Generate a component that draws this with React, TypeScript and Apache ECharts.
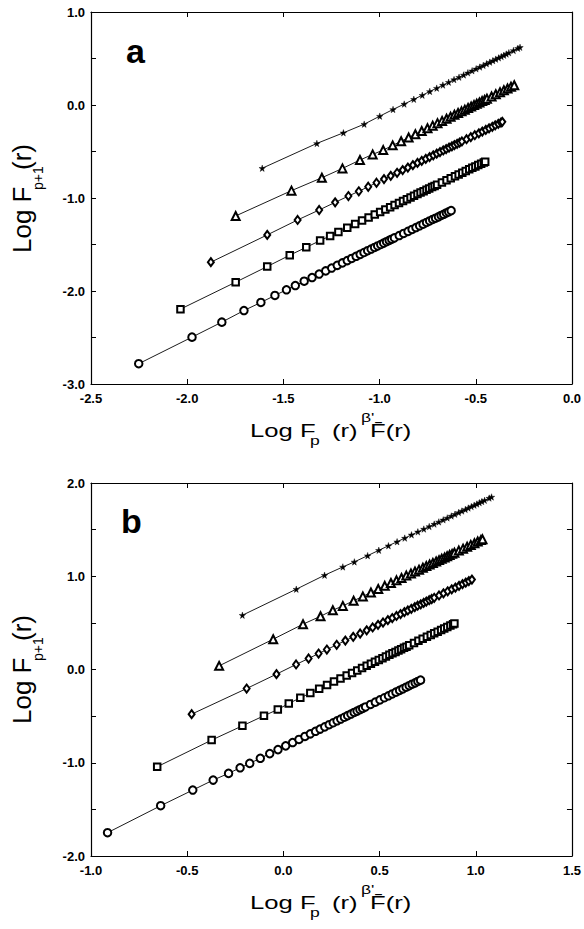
import React, { useEffect, useRef } from "react";
import * as echarts from "echarts";

// ---------- Panel a data ----------
const aStarX = [-1.61, -1.326, -1.188, -1.08, -0.999, -0.93, -0.872, -0.822, -0.778, -0.739, -0.703, -0.671, -0.641, -0.613, -0.587, -0.563, -0.541, -0.519, -0.498, -0.479, -0.461, -0.444, -0.427, -0.411, -0.396, -0.381, -0.367, -0.354, -0.341, -0.328, -0.304, -0.281, -0.27];
const aStarY = [-0.68, -0.413, -0.299, -0.206, -0.12, -0.048, 0.01, 0.061, 0.105, 0.146, 0.181, 0.214, 0.245, 0.273, 0.299, 0.323, 0.346, 0.368, 0.389, 0.408, 0.426, 0.444, 0.461, 0.477, 0.493, 0.507, 0.521, 0.535, 0.548, 0.562, 0.586, 0.609, 0.62];

const aTriX = [-1.748, -1.458, -1.3, -1.193, -1.102, -1.036, -0.981, -0.932, -0.888, -0.849, -0.814, -0.781, -0.751, -0.724, -0.699, -0.675, -0.652, -0.631, -0.611, -0.592, -0.574, -0.557, -0.54, -0.524, -0.509, -0.495, -0.481, -0.467, -0.454, -0.442, -0.418, -0.396, -0.374, -0.354, -0.335, -0.317, -0.3];
const aTriY = [-1.193, -0.921, -0.782, -0.682, -0.592, -0.531, -0.485, -0.434, -0.39, -0.349, -0.314, -0.28, -0.25, -0.222, -0.195, -0.171, -0.148, -0.126, -0.105, -0.086, -0.068, -0.05, -0.033, -0.017, -0.001, 0.014, 0.028, 0.042, 0.055, 0.068, 0.092, 0.115, 0.137, 0.158, 0.177, 0.196, 0.213];

const aDiaX = [-1.877, -1.584, -1.426, -1.314, -1.231, -1.162, -1.108, -1.059, -1.016, -0.977, -0.942, -0.909, -0.88, -0.853, -0.827, -0.803, -0.781, -0.76, -0.74, -0.721, -0.703, -0.686, -0.669, -0.654, -0.639, -0.624, -0.611, -0.597, -0.584, -0.572, -0.548, -0.526, -0.505, -0.484, -0.466, -0.448, -0.431, -0.414, -0.399, -0.383, -0.369, -0.362];
const aDiaY = [-1.69, -1.397, -1.236, -1.129, -1.047, -0.979, -0.928, -0.879, -0.836, -0.797, -0.762, -0.729, -0.7, -0.673, -0.647, -0.623, -0.601, -0.58, -0.56, -0.541, -0.523, -0.506, -0.489, -0.474, -0.459, -0.444, -0.431, -0.417, -0.404, -0.392, -0.368, -0.346, -0.325, -0.304, -0.286, -0.268, -0.251, -0.234, -0.219, -0.203, -0.189, -0.181];

const aSqX = [-2.035, -1.748, -1.584, -1.467, -1.381, -1.309, -1.257, -1.214, -1.168, -1.127, -1.091, -1.057, -1.025, -0.997, -0.97, -0.945, -0.922, -0.899, -0.878, -0.858, -0.839, -0.821, -0.803, -0.787, -0.771, -0.756, -0.742, -0.727, -0.714, -0.701, -0.676, -0.652, -0.63, -0.608, -0.589, -0.57, -0.552, -0.534, -0.518, -0.502, -0.487, -0.472, -0.458, -0.451];
const aSqY = [-2.195, -1.905, -1.737, -1.615, -1.53, -1.458, -1.408, -1.365, -1.319, -1.279, -1.243, -1.21, -1.178, -1.15, -1.124, -1.099, -1.076, -1.053, -1.033, -1.013, -0.994, -0.976, -0.958, -0.942, -0.927, -0.912, -0.898, -0.883, -0.87, -0.857, -0.833, -0.809, -0.787, -0.765, -0.747, -0.728, -0.71, -0.692, -0.676, -0.66, -0.646, -0.631, -0.617, -0.61];

const aCirX = [-2.252, -1.975, -1.82, -1.705, -1.617, -1.544, -1.484, -1.438, -1.392, -1.351, -1.314, -1.28, -1.249, -1.22, -1.193, -1.168, -1.145, -1.122, -1.101, -1.081, -1.062, -1.044, -1.026, -1.01, -0.994, -0.979, -0.964, -0.95, -0.937, -0.923, -0.898, -0.875, -0.852, -0.831, -0.811, -0.792, -0.774, -0.756, -0.74, -0.724, -0.709, -0.694, -0.68, -0.667, -0.653, -0.641, -0.628];
const aCirY = [-2.782, -2.496, -2.335, -2.21, -2.123, -2.048, -1.987, -1.941, -1.895, -1.855, -1.818, -1.784, -1.753, -1.724, -1.698, -1.673, -1.65, -1.627, -1.606, -1.586, -1.567, -1.549, -1.532, -1.516, -1.5, -1.485, -1.47, -1.456, -1.443, -1.429, -1.404, -1.381, -1.359, -1.338, -1.318, -1.299, -1.281, -1.263, -1.247, -1.231, -1.217, -1.202, -1.188, -1.175, -1.161, -1.149, -1.136];

// ---------- Panel b data ----------
const bStarX = [-0.213, 0.067, 0.214, 0.309, 0.369, 0.438, 0.496, 0.546, 0.591, 0.631, 0.666, 0.699, 0.73, 0.758, 0.784, 0.808, 0.831, 0.852, 0.873, 0.892, 0.911, 0.928, 0.946, 0.961, 0.977, 0.992, 1.006, 1.019, 1.032, 1.046, 1.07, 1.082];
const bStarY = [0.582, 0.861, 1.011, 1.1, 1.154, 1.221, 1.278, 1.327, 1.37, 1.409, 1.444, 1.476, 1.506, 1.533, 1.559, 1.583, 1.605, 1.626, 1.646, 1.665, 1.683, 1.7, 1.717, 1.732, 1.747, 1.762, 1.775, 1.789, 1.801, 1.814, 1.838, 1.85];

const bTriX = [-0.334, -0.053, 0.102, 0.193, 0.257, 0.309, 0.365, 0.413, 0.455, 0.493, 0.527, 0.559, 0.588, 0.614, 0.639, 0.663, 0.684, 0.705, 0.725, 0.743, 0.76, 0.777, 0.794, 0.809, 0.823, 0.838, 0.851, 0.864, 0.877, 0.889, 0.912, 0.934, 0.955, 0.974, 0.993, 1.01, 1.027, 1.035];
const bTriY = [0.039, 0.325, 0.486, 0.571, 0.636, 0.682, 0.737, 0.784, 0.826, 0.863, 0.897, 0.928, 0.956, 0.982, 1.007, 1.03, 1.051, 1.071, 1.091, 1.109, 1.126, 1.142, 1.159, 1.173, 1.188, 1.202, 1.215, 1.228, 1.24, 1.252, 1.275, 1.296, 1.317, 1.336, 1.354, 1.372, 1.388, 1.396];

const bDiaX = [-0.477, -0.191, -0.036, 0.066, 0.131, 0.183, 0.226, 0.277, 0.322, 0.363, 0.399, 0.433, 0.464, 0.492, 0.518, 0.543, 0.566, 0.588, 0.609, 0.629, 0.647, 0.665, 0.683, 0.698, 0.714, 0.729, 0.743, 0.758, 0.771, 0.784, 0.809, 0.832, 0.854, 0.875, 0.894, 0.913, 0.931, 0.948, 0.964, 0.98];
const bDiaY = [-0.479, -0.204, -0.05, 0.054, 0.118, 0.171, 0.214, 0.265, 0.31, 0.35, 0.386, 0.42, 0.451, 0.479, 0.504, 0.529, 0.552, 0.574, 0.595, 0.615, 0.633, 0.651, 0.669, 0.684, 0.699, 0.714, 0.728, 0.743, 0.756, 0.769, 0.794, 0.817, 0.839, 0.86, 0.878, 0.897, 0.915, 0.932, 0.948, 0.964];

const bSqX = [-0.656, -0.373, -0.213, -0.101, -0.029, 0.028, 0.088, 0.14, 0.186, 0.227, 0.263, 0.297, 0.329, 0.357, 0.384, 0.409, 0.433, 0.455, 0.476, 0.496, 0.515, 0.533, 0.551, 0.567, 0.583, 0.598, 0.612, 0.627, 0.64, 0.654, 0.679, 0.702, 0.724, 0.746, 0.766, 0.784, 0.802, 0.82, 0.836, 0.852, 0.868, 0.882, 0.889];
const bSqY = [-1.043, -0.757, -0.604, -0.496, -0.429, -0.364, -0.304, -0.253, -0.207, -0.166, -0.13, -0.096, -0.064, -0.037, -0.01, 0.015, 0.039, 0.061, 0.082, 0.102, 0.121, 0.139, 0.157, 0.173, 0.188, 0.203, 0.217, 0.232, 0.245, 0.259, 0.284, 0.307, 0.329, 0.351, 0.371, 0.389, 0.406, 0.424, 0.44, 0.456, 0.472, 0.486, 0.493];

const bCirX = [-0.914, -0.638, -0.471, -0.365, -0.285, -0.225, -0.175, -0.12, -0.071, -0.028, 0.012, 0.048, 0.081, 0.112, 0.14, 0.167, 0.191, 0.215, 0.238, 0.259, 0.279, 0.298, 0.317, 0.334, 0.351, 0.368, 0.383, 0.398, 0.412, 0.427, 0.453, 0.478, 0.502, 0.525, 0.546, 0.566, 0.585, 0.604, 0.621, 0.638, 0.654, 0.669, 0.685, 0.699, 0.713];
const bCirY = [-1.75, -1.461, -1.293, -1.186, -1.114, -1.054, -1.007, -0.952, -0.902, -0.859, -0.819, -0.783, -0.75, -0.718, -0.69, -0.663, -0.639, -0.615, -0.592, -0.571, -0.55, -0.531, -0.512, -0.495, -0.478, -0.461, -0.446, -0.431, -0.417, -0.402, -0.375, -0.35, -0.326, -0.303, -0.282, -0.262, -0.243, -0.224, -0.207, -0.19, -0.174, -0.158, -0.143, -0.128, -0.114];

// ---------- Axis ranges ----------
const aXRange = [-2.5, 0];
const aYRange = [-3, 1];
const bXRange = [-1, 1.5];
const bYRange = [-2, 2];

const FONT = '"Liberation Sans", Arial, Helvetica, sans-serif';
const STAR = "path://M50,0 L61,35 L98,35 L68,57 L79,91 L50,70 L21,91 L32,57 L2,35 L39,35 Z";

function pairs(xs: number[], ys: number[]) {
  const n = Math.min(xs.length, ys.length);
  const out: number[][] = [];
  for (let i = 0; i < n; i++) out.push([xs[i], ys[i]]);
  return out;
}

function mkSeries(xs: number[], ys: number[], symbol: string, size: any, idx: number, filled = false) {
  return {
    type: "line",
    xAxisIndex: idx,
    yAxisIndex: idx,
    data: pairs(xs, ys),
    symbol,
    symbolSize: size,
    showSymbol: true,
    lineStyle: { color: "#000", width: 0.9 },
    itemStyle: filled
      ? { color: "#000", borderColor: "#000", borderWidth: 0.4 }
      : { color: "#000", borderColor: "#000", borderWidth: 0.85 },
    emphasis: { disabled: true },
    z: 3,
  };
}

const axisLine = { show: true, onZero: false, lineStyle: { color: "#000", width: 1.2 } };
const tick = { show: true, inside: true, length: 5, lineStyle: { color: "#000", width: 1 } };

function xAxes(range: number[], grid: number) {
  return [
    {
      type: "value",
      gridIndex: grid,
      min: range[0],
      max: range[1],
      interval: 0.5,
      position: "bottom",
      axisLine,
      axisTick: tick,
      splitLine: { show: false },
      axisLabel: {
        color: "#000",
        fontSize: 13,
        fontWeight: "bold",
        fontFamily: FONT,
        margin: 8,
        showMinLabel: true,
        showMaxLabel: true,
        formatter: (v: number) => v.toFixed(1),
      },
    },
    {
      type: "value",
      gridIndex: grid,
      min: range[0],
      max: range[1],
      interval: 0.5,
      position: "top",
      axisLine,
      axisTick: tick,
      splitLine: { show: false },
      axisLabel: { show: false },
    },
  ];
}

function yAxes(range: number[], grid: number) {
  return [
    {
      type: "value",
      gridIndex: grid,
      min: range[0],
      max: range[1],
      interval: 0.5,
      position: "left",
      axisLine,
      axisTick: tick,
      splitLine: { show: false },
      axisLabel: {
        color: "#000",
        fontSize: 13,
        fontWeight: "bold",
        fontFamily: FONT,
        margin: 6,
        showMinLabel: true,
        showMaxLabel: true,
        formatter: (v: number) => (Math.abs(v - Math.round(v)) < 1e-9 ? v.toFixed(1) : ""),
      },
    },
    {
      type: "value",
      gridIndex: grid,
      min: range[0],
      max: range[1],
      interval: 0.5,
      position: "right",
      axisLine,
      axisTick: tick,
      splitLine: { show: false },
      axisLabel: { show: false },
    },
  ];
}

function xTitle(dy: number) {
  const sx = 1.35;
  const t = (text: string, x: number, y: number, fs: number) => ({
    type: "text",
    x,
    y: y + dy,
    scaleX: sx,
    style: { text, fontSize: fs, fontFamily: FONT, fill: "#000", align: "left", verticalAlign: "middle" },
  });
  return [
    t("Log F", 250, 431, 19),
    t("p", 310, 440, 13),
    t("(r)", 332, 431, 19),
    t("β'", 361, 417, 13),
    t("F\u0304(r)", 370, 431, 19),
  ];
}

function yTitle(dy: number) {
  const t = (text: string, x: number, y: number, fs: number) => ({
    type: "text",
    x,
    y: y + dy,
    rotation: Math.PI / 2,
    style: { text, fontSize: fs, fontFamily: FONT, fill: "#000", align: "left", verticalAlign: "middle" },
  });
  return [t("Log F", 22, 253, 26), t("p+1", 38, 190, 14), t("(r)", 22, 170, 26)];
}

export default function App() {
  const ref = useRef<HTMLDivElement>(null);
  useEffect(() => {
    if (!ref.current) return;
    const chart = echarts.init(ref.current, null, { renderer: "svg" });
    chart.setOption({
      animation: false,
      backgroundColor: "#fff",
      grid: [
        { left: 91, top: 12, width: 484, height: 372 },
        { left: 91, top: 483, width: 485, height: 373 },
      ],
      xAxis: [...xAxes(aXRange, 0), ...xAxes(bXRange, 1)],
      yAxis: [...yAxes(aYRange, 0), ...yAxes(bYRange, 1)],
      series: [
        mkSeries(aStarX, aStarY, STAR, 6.5, 0, true),
        mkSeries(aTriX, aTriY, "emptyTriangle", 8, 0),
        mkSeries(aDiaX, aDiaY, "emptyDiamond", [6, 8], 0),
        mkSeries(aSqX, aSqY, "emptyRect", 6.5, 0),
        mkSeries(aCirX, aCirY, "emptyCircle", 7.5, 0),
        mkSeries(bStarX, bStarY, STAR, 6.5, 2, true),
        mkSeries(bTriX, bTriY, "emptyTriangle", 8, 2),
        mkSeries(bDiaX, bDiaY, "emptyDiamond", [6, 8], 2),
        mkSeries(bSqX, bSqY, "emptyRect", 6.5, 2),
        mkSeries(bCirX, bCirY, "emptyCircle", 7.5, 2),
      ],
      graphic: [
        {
          type: "text",
          x: 126,
          y: 51,
          style: { text: "a", fontSize: 34, fontWeight: "bold", fontFamily: FONT, fill: "#000", verticalAlign: "middle" },
        },
        {
          type: "text",
          x: 121,
          y: 521,
          style: { text: "b", fontSize: 34, fontWeight: "bold", fontFamily: FONT, fill: "#000", verticalAlign: "middle" },
        },
        ...xTitle(0),
        ...xTitle(472),
        ...yTitle(0),
        ...yTitle(471),
      ],
    });
    return () => chart.dispose();
  }, []);
  return <div ref={ref} style={{ position: "absolute", left: 0, top: 0, width: 584, height: 929 }} />;
}
